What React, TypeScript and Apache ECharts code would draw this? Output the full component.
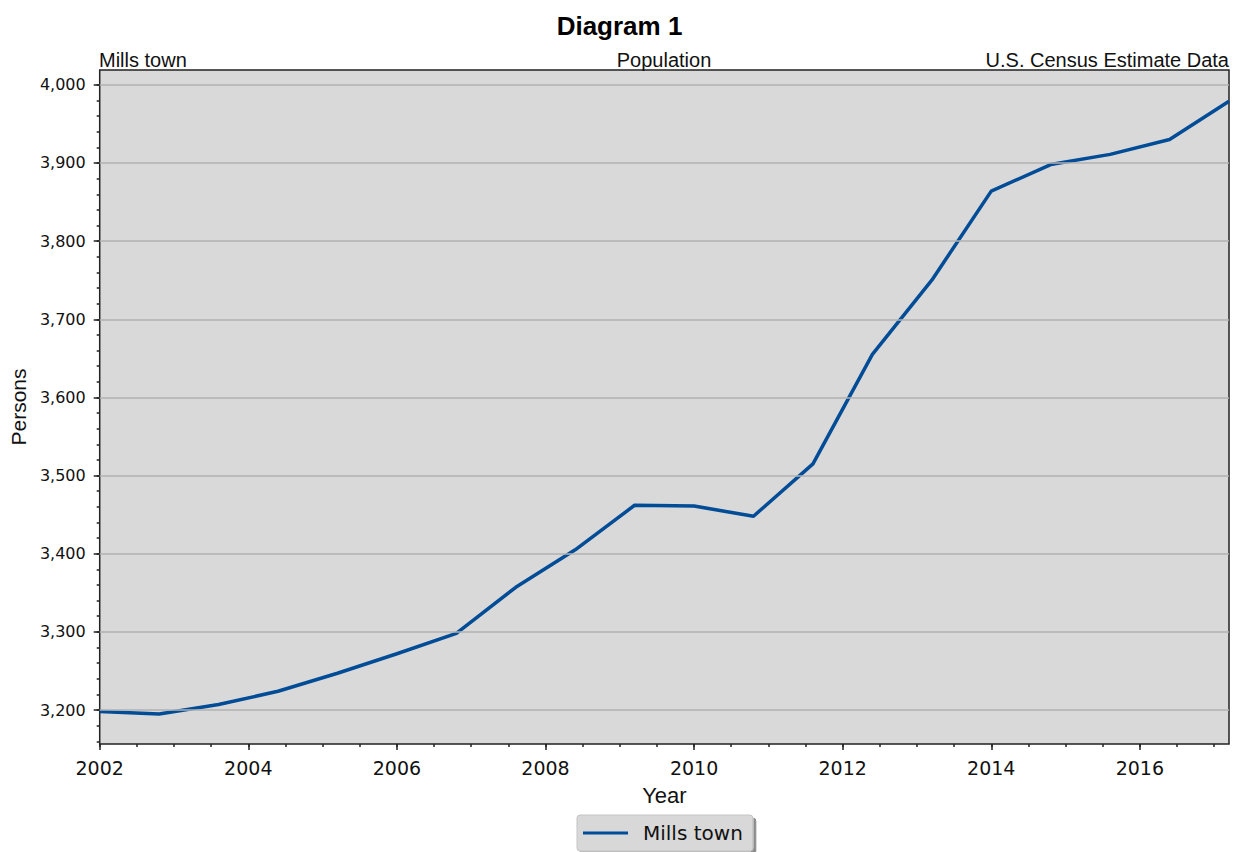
import React, { useEffect, useRef } from "react";
import * as echarts from "echarts";

const years = [2002, 2002.8, 2003.6, 2004.4, 2005.2, 2006, 2006.8, 2007.6, 2008.4, 2009.2, 2010, 2010.8, 2011.6, 2012.4, 2013.2, 2014, 2014.8, 2015.6, 2016.4, 2017.2];
const population = [3198, 3195, 3207, 3224, 3247, 3272, 3298, 3357, 3405, 3462, 3461, 3448, 3515, 3655, 3750, 3864, 3898, 3911, 3930, 3979];
const xTickLabels = [2002, 2004, 2006, 2008, 2010, 2012, 2014, 2016];
const yTickLabels = [3200, 3300, 3400, 3500, 3600, 3700, 3800, 3900, 4000];
const seriesName = "Mills town";
const titleText = "Diagram 1";
const leftSubtitle = "Mills town";
const centerSubtitle = "Population";
const rightSubtitle = "U.S. Census Estimate Data";

const X_MIN = 2002;
const X_MAX = 2017.2;
const Y_MIN = 3156.5;
const Y_MAX = 4019;

const xMinor: number[] = [];
for (let v = 2002; v <= 2017; v += 0.5) xMinor.push(v);
const yMinor: number[] = [];
for (let v = 3160; v <= 4000; v += 20) yMinor.push(v);

const GRID = { left: 99, right: 10, top: 70, bottom: 108 };

export default function App() {
  const ref = useRef<HTMLDivElement>(null);
  useEffect(() => {
    if (!ref.current) return;
    const chart = echarts.init(ref.current, null, { renderer: "svg" });
    const tickColor = "#222";
    const subFont = "20px 'Liberation Sans'";
    const option: any = {
      animation: false,
      backgroundColor: "#ffffff",
      title: {
        text: titleText,
        left: "center",
        top: 8,
        textStyle: { fontFamily: "Liberation Sans", fontWeight: "bold", fontSize: 26, color: "#000" },
      },
      graphic: [
        { type: "text", x: 99, y: 70, style: { text: leftSubtitle, font: subFont, fill: "#111", align: "left", verticalAlign: "bottom" } },
        { type: "text", x: 664, y: 70, style: { text: centerSubtitle, font: subFont, fill: "#111", align: "center", verticalAlign: "bottom" } },
        { type: "text", x: 1229, y: 70, style: { text: rightSubtitle, font: subFont, fill: "#111", align: "right", verticalAlign: "bottom" } },
      ],
      grid: {
        ...GRID,
        show: true,
        backgroundColor: "#d9d9d9",
        borderColor: "#222",
        borderWidth: 1.5,
        containLabel: false,
      },
      legend: {
        data: [seriesName],
        top: 815,
        left: 577,
        icon: "rect",
        itemWidth: 45,
        itemHeight: 3,
        itemGap: 10,
        padding: [8, 10, 8, 6],
        backgroundColor: "#d8d8d8",
        borderColor: "#c4c4c4",
        borderWidth: 1,
        borderRadius: 3,
        shadowColor: "rgba(0,0,0,0.45)",
        shadowOffsetX: 3,
        shadowOffsetY: 3,
        shadowBlur: 1,
        textStyle: { fontFamily: "DejaVu Sans", fontSize: 20, color: "#111", padding: [0, 0, 0, 10] },
      },
      xAxis: [
        {
          type: "value",
          min: X_MIN,
          max: X_MAX,
          name: "Year",
          nameLocation: "middle",
          nameGap: 40,
          nameTextStyle: { fontFamily: "Liberation Sans", fontSize: 22, color: "#111" },
          axisLine: { show: false },
          splitLine: { show: false },
          axisTick: { show: true, length: 6, lineStyle: { color: tickColor, width: 1.5 }, customValues: xTickLabels },
          axisLabel: {
            customValues: xTickLabels,
            margin: 14,
            fontFamily: "DejaVu Sans",
            fontSize: 19,
            color: "#111",
            formatter: (v: number) => String(v),
          },
        },
        {
          type: "value",
          min: X_MIN,
          max: X_MAX,
          position: "bottom",
          axisLine: { show: false },
          splitLine: { show: false },
          axisLabel: { show: false },
          axisTick: { show: true, length: 3, lineStyle: { color: tickColor, width: 1.5 }, customValues: xMinor },
        },
      ],
      yAxis: [
        {
          type: "value",
          min: Y_MIN,
          max: Y_MAX,
          name: "Persons",
          nameLocation: "middle",
          nameRotate: 90,
          nameGap: 69,
          nameTextStyle: { fontFamily: "Liberation Sans", fontSize: 21, color: "#111" },
          axisLine: { show: false },
          splitLine: { show: false },
          axisTick: { show: true, length: 6, lineStyle: { color: tickColor, width: 1.5 }, customValues: yTickLabels },
          axisLabel: {
            customValues: yTickLabels,
            margin: 14,
            fontFamily: "DejaVu Sans",
            fontSize: 16,
            color: "#111",
            formatter: (v: number) => v.toLocaleString("en-US"),
          },
        },
        {
          type: "value",
          min: Y_MIN,
          max: Y_MAX,
          position: "left",
          axisLine: { show: false },
          splitLine: { show: false },
          axisLabel: { show: false },
          axisTick: { show: true, length: 3, lineStyle: { color: tickColor, width: 1.5 }, customValues: yMinor },
        },
      ],
      series: [
        {
          type: "line",
          name: "gridlines",
          data: [],
          z: 1,
          silent: true,
          markLine: {
            silent: true,
            symbol: "none",
            label: { show: false },
            lineStyle: { color: "#b0b0b0", width: 1.5, type: "solid" },
            data: yTickLabels.map((v) => ({ yAxis: v })),
          },
        },
        {
          type: "line",
          name: seriesName,
          z: 3,
          data: years.map((y, i) => [y, population[i]]),
          showSymbol: false,
          symbol: "none",
          lineStyle: { color: "#004c97", width: 3.5 },
          itemStyle: { color: "#004c97" },
        },
      ],
    };
    chart.setOption(option);
    return () => chart.dispose();
  }, []);
  return <div ref={ref} style={{ width: 1239, height: 852, position: "absolute", left: 0, top: 0 }} />;
}
